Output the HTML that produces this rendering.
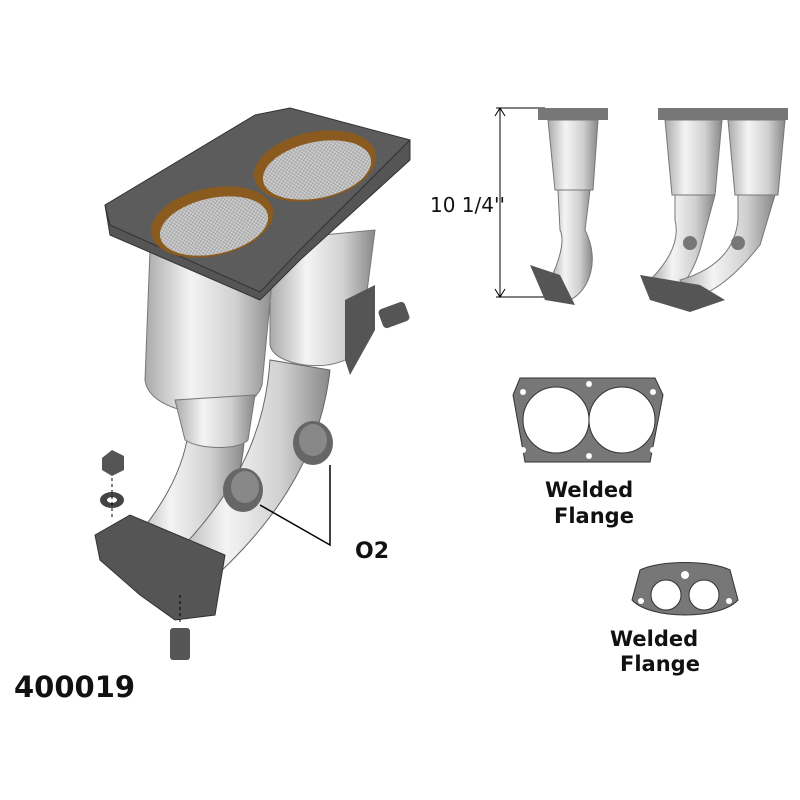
<!DOCTYPE html>
<html><head><meta charset="utf-8"><style>
body{margin:0;background:#fff;width:800px;height:800px;overflow:hidden}
svg{display:block}
text{font-family:"DejaVu Sans","Liberation Sans",sans-serif;font-weight:bold;fill:#111}
</style></head><body>
<svg width="800" height="800" viewBox="0 0 800 800" xmlns="http://www.w3.org/2000/svg">
<defs>
<linearGradient id="cyl" x1="0" x2="1"><stop offset="0" stop-color="#aaa"/><stop offset="0.35" stop-color="#f4f4f4"/><stop offset="0.7" stop-color="#d0d0d0"/><stop offset="1" stop-color="#888"/></linearGradient>
<pattern id="mesh" width="4" height="4" patternUnits="userSpaceOnUse"><rect width="4" height="4" fill="#cfcfcf"/><path d="M0 0L4 4M4 0L0 4" stroke="#999" stroke-width="0.6"/></pattern>
</defs>
<path d="M190 420 C185 480 150 520 130 545 L175 590 C200 555 240 520 245 430 Z" fill="url(#cyl)" stroke="#666"/>
<path d="M270 360 C265 440 230 500 170 560 L200 590 C270 530 320 460 330 370 Z" fill="url(#cyl)" stroke="#666"/>
<path d="M95 535 L130 515 L225 555 L215 615 L175 620 L140 595 L100 560 Z" fill="#555" stroke="#333"/>
<path d="M270 240 L270 345 C275 370 350 375 360 345 L375 230 Z" fill="url(#cyl)" stroke="#777"/>
<path d="M150 250 L145 380 C150 420 250 425 262 385 L275 250 Z" fill="url(#cyl)" stroke="#777"/>
<path d="M175 400 L185 440 C200 450 240 450 248 440 L255 395 Z" fill="url(#cyl)" stroke="#777"/>
<path d="M105 205 L255 120 L290 110 L410 140 L410 160 L300 260 L260 300 L110 235 Z" fill="#555" stroke="#333" stroke-linejoin="round"/>
<path d="M105 205 L255 115 L290 108 L410 140 L300 250 L260 292 L110 225 Z" fill="#5c5c5c" stroke="#333" stroke-linejoin="round"/>
<ellipse cx="212" cy="222" rx="62" ry="34" transform="rotate(-12 212 222)" fill="#8a5a1e"/>
<ellipse cx="214" cy="226" rx="55" ry="28" transform="rotate(-12 214 226)" fill="url(#mesh)"/>
<ellipse cx="315" cy="166" rx="62" ry="34" transform="rotate(-12 315 166)" fill="#8a5a1e"/>
<ellipse cx="317" cy="170" rx="55" ry="28" transform="rotate(-12 317 170)" fill="url(#mesh)"/>
<path d="M345 300 L375 285 L375 330 L350 375 L345 360 Z" fill="#555"/>
<rect x="380" y="305" width="28" height="20" rx="4" fill="#555" transform="rotate(-20 394 315)"/>
<ellipse cx="313" cy="443" rx="20" ry="22" fill="#666"/><ellipse cx="313" cy="440" rx="14" ry="16" fill="#888"/>
<ellipse cx="243" cy="490" rx="20" ry="22" fill="#666"/><ellipse cx="245" cy="487" rx="14" ry="16" fill="#888"/>
<path d="M330 465 L330 545 L260 505" fill="none" stroke="#000" stroke-width="1.5"/>
<text x="355" y="558" font-size="22">O2</text>
<path d="M102 458 L112 450 L124 456 L124 470 L112 476 L102 470 Z" fill="#555"/>
<ellipse cx="112" cy="500" rx="12" ry="8" fill="#444"/><ellipse cx="112" cy="500" rx="5" ry="3" fill="#fff"/>
<rect x="170" y="628" width="20" height="32" rx="3" fill="#555"/>
<path d="M112 478 L112 520 M180 595 L180 625" stroke="#000" stroke-dasharray="3 3"/>
<text x="14" y="697" font-size="29">400019</text>
<line x1="500" y1="108" x2="500" y2="297" stroke="#000"/>
<path d="M495 116 L500 108 L505 116 M495 289 L500 297 L505 289" fill="none" stroke="#000"/>
<line x1="496" y1="108" x2="545" y2="108" stroke="#000"/><line x1="496" y1="297" x2="545" y2="297" stroke="#000"/>
<text x="430" y="212" font-size="20" style="font-weight:normal">10 1/4''</text>
<rect x="538" y="108" width="70" height="12" fill="#777"/>
<path d="M548 120 L598 120 L593 190 L555 190 Z" fill="url(#cyl)" stroke="#777"/>
<path d="M558 190 L590 190 L585 230 C600 260 590 290 570 300 L550 280 C560 260 565 240 560 230 Z" fill="url(#cyl)" stroke="#777"/>
<path d="M530 265 L560 275 L575 305 L545 300 Z" fill="#555"/>
<rect x="658" y="108" width="130" height="12" fill="#777"/>
<path d="M665 120 L722 120 L715 195 L672 195 Z" fill="url(#cyl)" stroke="#777"/>
<path d="M728 120 L785 120 L778 195 L735 195 Z" fill="url(#cyl)" stroke="#777"/>
<path d="M675 195 L715 195 L700 250 C690 280 680 290 665 295 L650 280 C670 260 680 240 675 220 Z" fill="url(#cyl)" stroke="#777"/>
<path d="M738 195 L775 195 L760 245 C740 270 720 290 690 300 L680 280 C715 270 735 250 738 220 Z" fill="url(#cyl)" stroke="#777"/>
<path d="M640 275 L700 285 L725 300 L690 312 L650 300 Z" fill="#555"/>
<circle cx="690" cy="243" r="7" fill="#777"/><circle cx="738" cy="243" r="7" fill="#777"/>
<path d="M520 378 L655 378 L663 395 L650 462 L525 462 L513 395 Z" fill="#777" stroke="#333"/>
<circle cx="556" cy="420" r="33" fill="#fff" stroke="#333"/><circle cx="622" cy="420" r="33" fill="#fff" stroke="#333"/>
<g fill="#fff"><circle cx="523" cy="392" r="3"/><circle cx="589" cy="384" r="3"/><circle cx="653" cy="392" r="3"/><circle cx="523" cy="450" r="3"/><circle cx="589" cy="456" r="3"/><circle cx="653" cy="450" r="3"/></g>
<text x="545" y="497" font-size="21">Welded</text>
<text x="554" y="523" font-size="21">Flange</text>
<path d="M640 570 C660 560 710 560 730 570 L738 600 C720 620 650 620 632 600 Z" fill="#777" stroke="#333"/>
<circle cx="666" cy="595" r="15" fill="#fff" stroke="#333"/><circle cx="704" cy="595" r="15" fill="#fff" stroke="#333"/>
<circle cx="685" cy="575" r="4" fill="#fff"/><circle cx="641" cy="601" r="3" fill="#fff"/><circle cx="729" cy="601" r="3" fill="#fff"/>
<text x="610" y="646" font-size="21">Welded</text>
<text x="620" y="671" font-size="21">Flange</text>
</svg>
</body></html>
